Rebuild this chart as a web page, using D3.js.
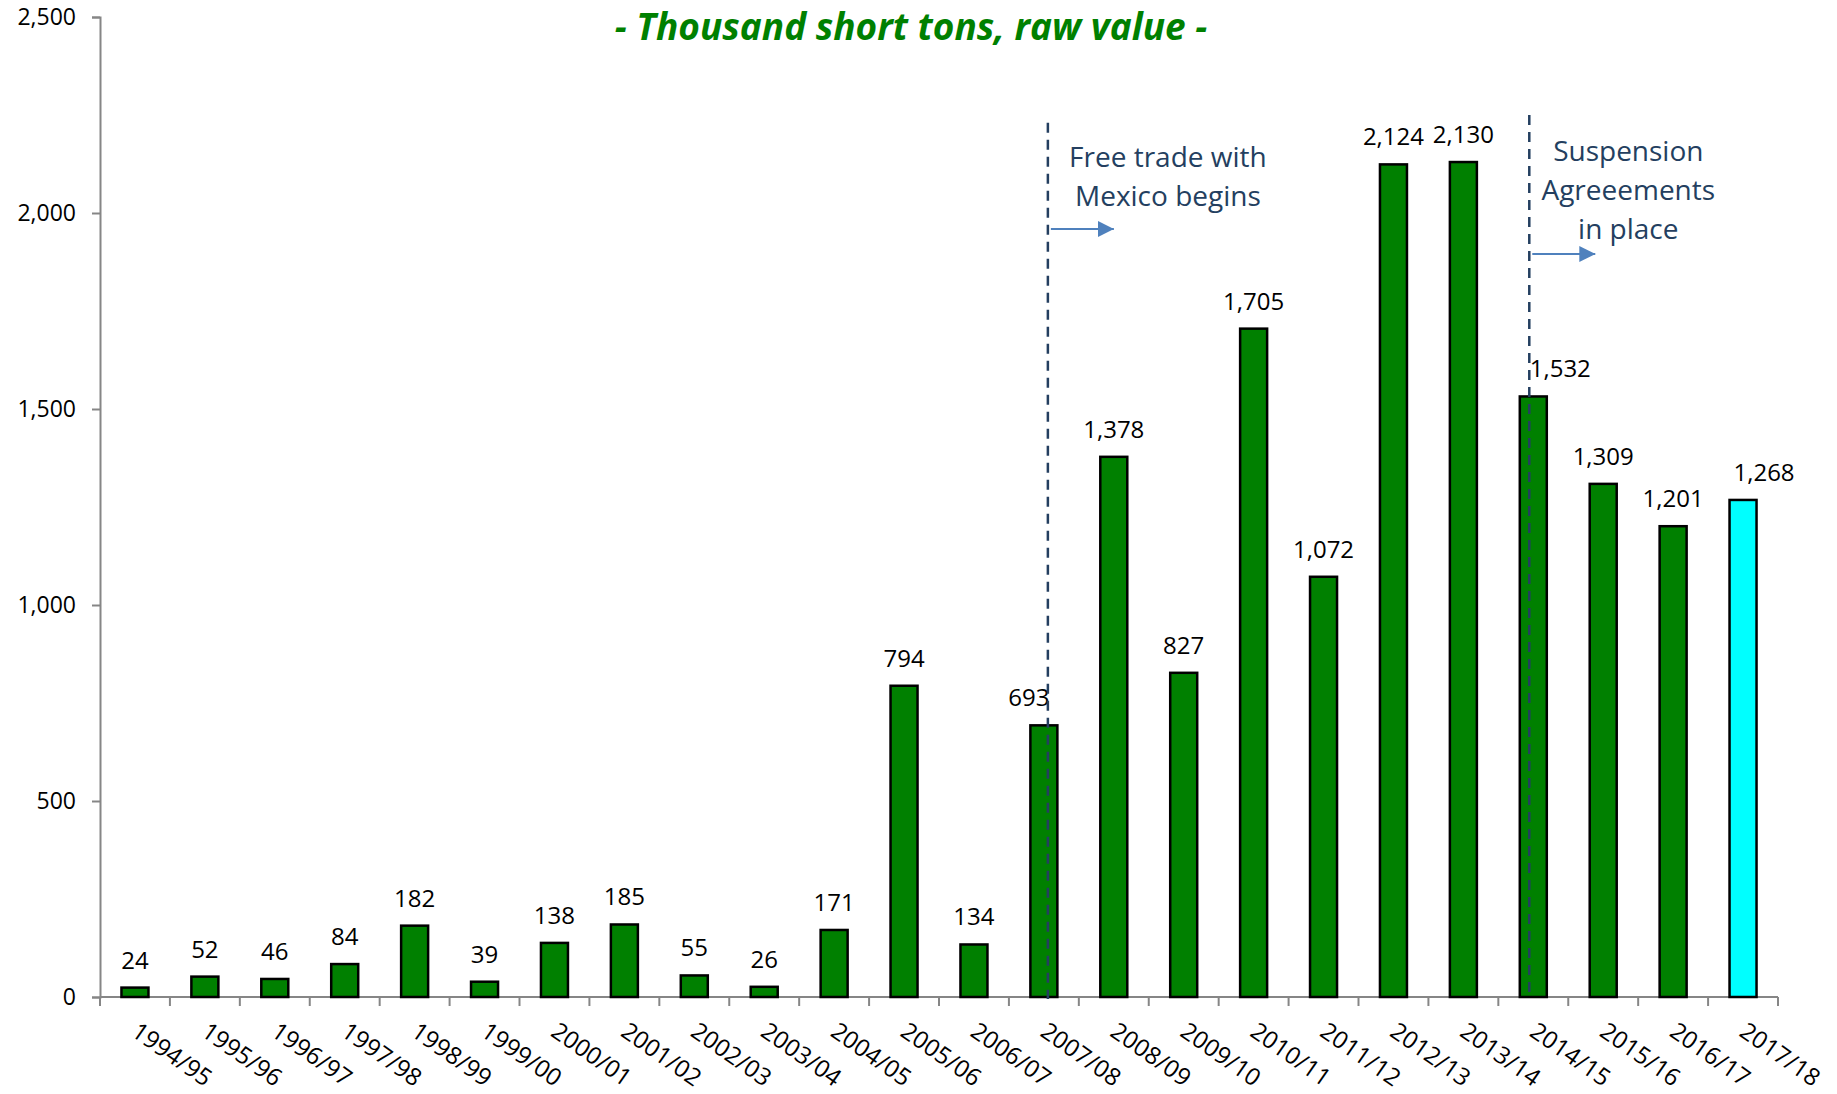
<!DOCTYPE html>
<html lang="en">
<head>
<meta charset="utf-8">
<script src="https://cdn.jsdelivr.net/npm/d3@7"></script>
<style>
    body { margin: 0; background: #fff; }
    text { font-family: "Open Sans", sans-serif; }
    .axis path, .axis line { stroke: #868686; stroke-width: 2; fill: none; }
</style>
</head>
<body>
<script>
const seasons = ["1994/95", "1995/96", "1996/97", "1997/98", "1998/99", "1999/00", "2000/01", "2001/02",
    "2002/03", "2003/04", "2004/05", "2005/06", "2006/07", "2007/08", "2008/09", "2009/10",
    "2010/11", "2011/12", "2012/13", "2013/14", "2014/15", "2015/16", "2016/17", "2017/18"];
const imports = [24, 52, 46, 84, 182, 39, 138, 185, 55, 26, 171, 794, 134, 693, 1378, 827,
    1705, 1072, 2124, 2130, 1532, 1309, 1201, 1268];
const yTicks = [0, 500, 1000, 1500, 2000, 2500];
const forecastSeason = "2017/18";
const title = "- Thousand short tons, raw value -";
const notes = [
    { season: "2007/08", top: 2230, lines: ["Free trade with", "Mexico begins"] },
    { season: "2014/15", top: 2250, lines: ["Suspension", "Agreeements", "in place"] }
];

let w = 1837, h = 1094;
let plotLeft = 100, plotRight = 1778, plotTop = 17, plotBottom = 997;

let svg = d3.select("body").append("svg")
    .attr("width", w)
    .attr("height", h);

let xScale = d3.scaleBand().domain(seasons).range([plotLeft, plotRight]).padding(0);
let yScale = d3.scaleLinear().domain([0, 2500]).range([plotBottom, plotTop]);
let barW = 27;
let cx = (s) => xScale(s) + xScale.bandwidth() / 2;

// title
svg.append("text")
    .attr("x", 911)
    .attr("y", 40)
    .attr("text-anchor", "middle")
    .attr("font-size", "37px")
    .attr("font-weight", "bold")
    .attr("font-style", "italic")
    .attr("fill", "#008000")
    .text(title);

// y axis
let yAxis = svg.append("g")
    .attr("class", "axis")
    .attr("transform", "translate(" + plotLeft + ",0)")
    .call(d3.axisLeft(yScale).tickValues(yTicks).tickFormat(d3.format(",")).tickSize(8).tickPadding(16));
yAxis.selectAll("text").attr("font-size", "23px").attr("fill", "#000").attr("font-family", "Open Sans");

// x axis line + ticks at band edges
svg.append("line")
    .attr("x1", plotLeft).attr("x2", plotRight)
    .attr("y1", plotBottom).attr("y2", plotBottom)
    .attr("stroke", "#868686").attr("stroke-width", 2);
svg.selectAll(".xtick")
    .data(seasons.concat(["end"]))
    .enter()
    .append("line")
    .attr("class", "xtick")
    .attr("x1", (d, i) => plotLeft + i * xScale.step())
    .attr("x2", (d, i) => plotLeft + i * xScale.step())
    .attr("y1", plotBottom)
    .attr("y2", plotBottom + 9)
    .attr("stroke", "#868686").attr("stroke-width", 2);

svg.selectAll(".xlab")
    .data(seasons)
    .enter()
    .append("text")
    .attr("class", "xlab")
    .attr("transform", (d) => "translate(" + (cx(d) - 5) + "," + (plotBottom + 38) + ") rotate(35)")
    .attr("font-size", "24px")
    .attr("fill", "#000")
    .text((d) => d);

// bars
let data = seasons.map((s, i) => ({ season: s, value: imports[i] }));

svg.selectAll(".bar")
    .data(data)
    .enter()
    .append("rect")
    .attr("class", "bar")
    .attr("x", (d) => cx(d.season) - barW / 2)
    .attr("y", (d) => yScale(d.value))
    .attr("width", barW)
    .attr("height", (d) => plotBottom - yScale(d.value))
    .attr("fill", (d) => d.season === forecastSeason ? "#00FFFF" : "#008000")
    .attr("stroke", "#000")
    .attr("stroke-width", 2.5);

// value labels (a few nudged sideways like in the original)
let nudge = { "2007/08": -15, "2014/15": 27, "2017/18": 21 };
svg.selectAll(".val")
    .data(data)
    .enter()
    .append("text")
    .attr("class", "val")
    .attr("x", (d) => cx(d.season) + (nudge[d.season] || 0))
    .attr("y", (d) => yScale(d.value) - 19)
    .attr("text-anchor", "middle")
    .attr("font-size", "24px")
    .attr("fill", "#000")
    .text((d) => d3.format(",")(d.value));

// annotations
let defs = svg.append("defs");
defs.append("marker")
    .attr("id", "arrow")
    .attr("viewBox", "0 0 10 10")
    .attr("refX", 10).attr("refY", 5)
    .attr("markerWidth", 8).attr("markerHeight", 8)
    .attr("markerUnits", "strokeWidth")
    .attr("orient", "auto")
    .append("path")
    .attr("d", "M0,0 L10,5 L0,10 z")
    .attr("fill", "#4F81BD");

let noteLayout = [
    { dx: 4, textDx: 120, textY: 167, arrowY: 229 },
    { dx: -4, textDx: 99, textY: 161, arrowY: 254 }
];

notes.forEach((n, i) => {
    let lay = noteLayout[i];
    let lx = cx(n.season) + lay.dx;
    svg.append("line")
        .attr("x1", lx).attr("x2", lx)
        .attr("y1", yScale(n.top)).attr("y2", plotBottom + 2)
        .attr("stroke", "#243F60")
        .attr("stroke-width", 2.5)
        .attr("stroke-dasharray", "10,7");

    svg.append("line")
        .attr("x1", lx + 3).attr("x2", lx + 66)
        .attr("y1", lay.arrowY).attr("y2", lay.arrowY)
        .attr("stroke", "#4F81BD")
        .attr("stroke-width", 2)
        .attr("marker-end", "url(#arrow)");

    svg.append("g").selectAll("text")
        .data(n.lines)
        .enter()
        .append("text")
        .attr("x", lx + lay.textDx)
        .attr("y", (d, j) => lay.textY + j * 39)
        .attr("text-anchor", "middle")
        .attr("font-size", "28px")
        .attr("fill", "#243F60")
        .text((d) => d);
});
</script>
</body>
</html>
